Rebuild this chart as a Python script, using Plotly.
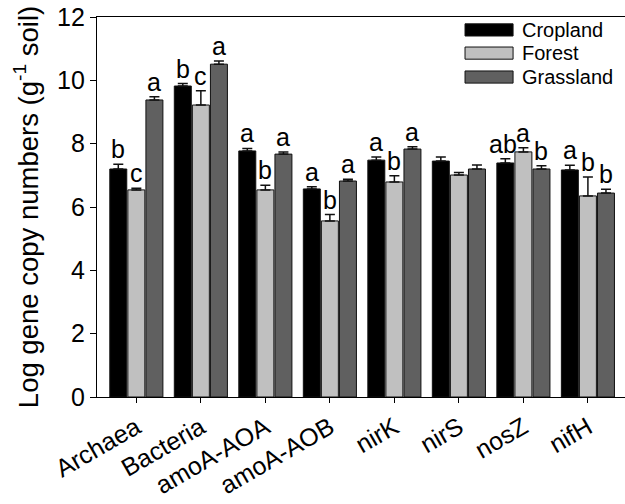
import plotly.graph_objects as go

categories = ["Archaea", "Bacteria", "amoA-AOA", "amoA-AOB", "nirK", "nirS", "nosZ", "nifH"]
series_names = ["Cropland", "Forest", "Grassland"]

cropland = [7.20, 9.82, 7.77, 6.57, 7.48, 7.45, 7.39, 7.17]
forest = [6.54, 9.22, 6.54, 5.56, 6.79, 7.01, 7.74, 6.35]
grassland = [9.38, 10.51, 7.67, 6.82, 7.83, 7.20, 7.20, 6.44]

cropland_err = [0.15, 0.08, 0.08, 0.07, 0.10, 0.13, 0.13, 0.15]
forest_err = [0.05, 0.45, 0.15, 0.20, 0.20, 0.08, 0.13, 0.60]
grassland_err = [0.10, 0.10, 0.07, 0.06, 0.07, 0.13, 0.10, 0.12]

cropland_letters = ["b", "b", "a", "a", "a", "", "ab", "a"]
forest_letters = ["c", "c", "b", "b", "b", "", "a", "b"]
grassland_letters = ["a", "a", "a", "a", "a", "", "b", "b"]

colors = ["#000000", "#c0c0c0", "#606060"]

FONT = "Liberation Sans, Arial, sans-serif"

values = [cropland, forest, grassland]
errors = [cropland_err, forest_err, grassland_err]
letters = [cropland_letters, forest_letters, grassland_letters]

W, H = 625, 504
ML, MR, MT, MB = 97, 0, 17, 107

fig = go.Figure()
for name, vals, errs, col in zip(series_names, values, errors, colors):
    fig.add_trace(go.Bar(
        x=categories, y=vals, name=name,
        marker=dict(color=col, line=dict(color="#111111", width=1)),
        error_y=dict(type="data", array=errs, arrayminus=[0] * len(errs),
                     symmetric=False, color="#111111", thickness=1.5, width=5),
        showlegend=False,
    ))

# letters above error bars
plot_w = W - ML - MR
xr = (-0.61, 7.575)
cat_px = plot_w / (xr[1] - xr[0])
bargap = 0.16
slot = cat_px * (1 - bargap) / 3
offsets = [-slot, 0, slot]
for k in range(3):
    for i, cat in enumerate(categories):
        if letters[k][i]:
            fig.add_annotation(
                x=cat, y=values[k][i] + errors[k][i], xref="x", yref="y",
                text=letters[k][i], showarrow=False, yanchor="bottom",
                xshift=offsets[k] - (2 if len(letters[k][i]) > 1 else 0), yshift=0,
                borderpad=0,
                font=dict(family=FONT, size=25, color="#000000"),
            )

# custom legend with wide swatches
rows_y = [0.966, 0.905, 0.842]
for name, col, yc in zip(series_names, colors, rows_y):
    fig.add_shape(type="rect", xref="paper", yref="paper",
                  x0=0.697, x1=0.788, y0=yc - 0.016, y1=yc + 0.016,
                  fillcolor=col, line=dict(color="#111111", width=1))
    fig.add_annotation(x=0.802, y=yc, xref="paper", yref="paper",
                       text=name, showarrow=False, xanchor="left", yanchor="middle",
                       font=dict(family=FONT, size=20, color="#000000"))

fig.update_layout(
    width=W, height=H,
    margin=dict(l=ML, r=MR, t=MT, b=MB, pad=0),
    paper_bgcolor="white", plot_bgcolor="white",
    barmode="group", bargap=bargap, bargroupgap=0.06,
    font=dict(family=FONT, color="#000000"),
    showlegend=False,
)
fig.update_xaxes(
    range=list(xr), showline=True, linecolor="#000000", linewidth=1.2,
    mirror=True, ticks="outside", ticklen=5, tickcolor="#000000",
    tickangle=-30, tickfont=dict(family=FONT, size=25), showgrid=False,
    automargin=False, ticklabeloverflow="allow",
)
fig.update_yaxes(
    range=[0, 12], tickvals=[0, 2, 4, 6, 8, 10, 12], showline=True,
    linecolor="#000000", linewidth=1.2, ticks="outside", ticklen=6,
    tickcolor="#000000", tickfont=dict(family=FONT, size=25), showgrid=False,
    zeroline=False, automargin=False, ticklabeloverflow="allow",
    title=dict(text="Log gene copy numbers (g<sup>-1</sup> soil)",
               font=dict(family=FONT, size=27.5), standoff=10),
)

fig.write_html("out.html", config={"displayModeBar": False},
               post_script="document.body.style.margin='0';document.body.style.overflow='hidden';")
